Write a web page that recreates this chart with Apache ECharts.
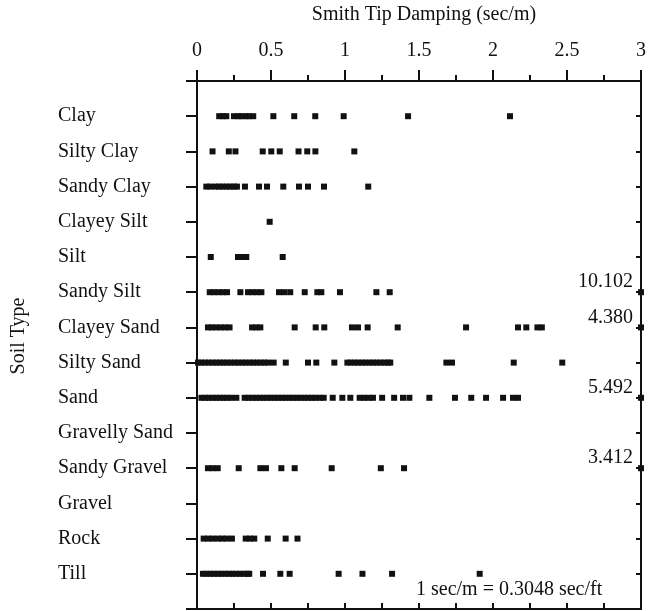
<!DOCTYPE html>
<html>
<head>
<meta charset="utf-8">
<script src="https://cdn.jsdelivr.net/npm/echarts@6/dist/echarts.min.js"></script>
<style>
html,body{margin:0;padding:0;background:#fff;}
#chart{width:657px;height:611px;}
</style>
</head>
<body>
<div id="chart"></div>
<script>
const categories = ['Clay','Silty Clay','Sandy Clay','Clayey Silt','Silt','Sandy Silt','Clayey Sand','Silty Sand','Sand','Gravelly Sand','Sandy Gravel','Gravel','Rock','Till'];
const xTicks = [0, 0.5, 1, 1.5, 2, 2.5, 3];

const clay = [0.15,0.175,0.198,0.25,0.28,0.30,0.33,0.35,0.38,0.516,0.657,0.799,0.991,1.426,2.115];
const siltyClay = [0.105,0.215,0.26,0.444,0.502,0.559,0.686,0.745,0.80,1.063];
const sandyClay = [0.063,0.09,0.125,0.15,0.175,0.20,0.225,0.25,0.27,0.324,0.419,0.473,0.583,0.689,0.75,0.858,1.157];
const clayeySilt = [0.491];
const silt = [0.093,0.277,0.305,0.333,0.579];
const sandySilt = [0.086,0.115,0.145,0.175,0.203,0.293,0.345,0.375,0.405,0.435,0.554,0.59,0.63,0.728,0.813,0.84,0.966,1.212,1.302];
const clayeySand = [0.074,0.10,0.13,0.16,0.19,0.22,0.372,0.40,0.428,0.66,0.802,0.86,1.047,1.088,1.153,1.356,1.818,2.169,2.225,2.30,2.33];
const siltySand = [0.007,0.03,0.055,0.08,0.105,0.13,0.155,0.18,0.205,0.23,0.255,0.28,0.305,0.33,0.355,0.38,0.405,0.43,0.455,0.48,0.518,0.60,0.75,0.806,0.928,1.016,1.04,1.065,1.09,1.115,1.14,1.165,1.19,1.215,1.24,1.265,1.29,1.306,1.685,1.723,2.14,2.468];
const sand = [0.03,0.055,0.08,0.105,0.13,0.155,0.18,0.205,0.23,0.266,0.322,0.35,0.375,0.40,0.425,0.45,0.475,0.50,0.525,0.55,0.575,0.60,0.625,0.65,0.675,0.70,0.725,0.75,0.775,0.80,0.83,0.856,0.917,0.982,1.036,1.099,1.13,1.16,1.189,1.251,1.332,1.392,1.435,1.57,1.743,1.853,1.953,2.068,2.135,2.169];
const gravellySand = [];
const sandyGravel = [0.074,0.105,0.14,0.282,0.428,0.466,0.57,0.66,0.91,1.242,1.399];
const gravel = [];
const rock = [0.045,0.075,0.105,0.14,0.17,0.20,0.236,0.329,0.358,0.387,0.478,0.599,0.679];
const till = [0.04,0.065,0.09,0.115,0.14,0.165,0.19,0.215,0.24,0.265,0.29,0.315,0.34,0.353,0.446,0.563,0.626,0.957,1.118,1.318,1.91];

const outlierCategories = ['Sandy Silt','Clayey Sand','Sand','Sandy Gravel'];
const outlierValues = [10.102, 4.380, 5.492, 3.412];

const rows = [clay,siltyClay,sandyClay,clayeySilt,silt,sandySilt,clayeySand,siltySand,sand,gravellySand,sandyGravel,gravel,rock,till];
const xMax = 3;

const pts = [];
rows.forEach((arr, i) => arr.forEach(v => pts.push([v, i + 1])));
const outPts = outlierCategories.map((c, i) => [Math.min(outlierValues[i], xMax), categories.indexOf(c) + 1]);

const FONT = 'Liberation Serif';
const FS = 20;
const INK = '#111';

const chart = echarts.init(document.getElementById('chart'), null, {renderer: 'canvas'});
chart.setOption({
  animation: false,
  backgroundColor: '#fff',
  grid: {left: 197, right: 16, top: 81, bottom: 2, containLabel: false},
  xAxis: [
    {
      type: 'value', position: 'top', min: 0, max: xMax, interval: 0.5,
      axisLine: {show: true, onZero: false, lineStyle: {color: INK, width: 2}},
      axisTick: {show: true, inside: false, length: 11, lineStyle: {color: INK, width: 2}},
      minorTick: {show: true, splitNumber: 2, length: 6, lineStyle: {color: INK, width: 2}},
      axisLabel: {show: true, margin: 20, fontFamily: FONT, fontSize: FS, color: INK,
        formatter: v => (xTicks.indexOf(v) >= 0 ? String(v) : '')},
      splitLine: {show: false}
    },
    {
      type: 'value', position: 'bottom', min: 0, max: xMax, interval: 0.25,
      axisLine: {show: true, onZero: false, lineStyle: {color: INK, width: 2}},
      axisTick: {show: true, inside: true, length: 6, lineStyle: {color: INK, width: 2}},
      axisLabel: {show: false},
      splitLine: {show: false}
    }
  ],
  yAxis: [
    {
      type: 'value', position: 'left', min: 0, max: categories.length + 1, interval: 1, inverse: true,
      axisLine: {show: true, onZero: false, lineStyle: {color: INK, width: 2}},
      axisTick: {show: true, inside: false, length: 11, lineStyle: {color: INK, width: 2}},
      axisLabel: {show: true, align: 'left', margin: 139, padding: [3, 0, 0, 0], fontFamily: FONT, fontSize: FS, color: INK,
        formatter: v => categories[v - 1] || ''},
      splitLine: {show: false}
    },
    {
      type: 'value', position: 'right', min: 0, max: categories.length + 1, interval: 1, inverse: true,
      axisLine: {show: true, onZero: false, lineStyle: {color: INK, width: 2}},
      axisTick: {show: true, inside: true, length: 5, lineStyle: {color: INK, width: 2}},
      axisLabel: {show: false},
      splitLine: {show: false}
    }
  ],
  series: [
    {
      type: 'scatter', xAxisIndex: 0, yAxisIndex: 0, symbol: 'rect', symbolSize: 6,
      itemStyle: {color: INK, opacity: 1}, data: pts, clip: false
    },
    {
      type: 'scatter', xAxisIndex: 0, yAxisIndex: 0, symbol: 'rect', symbolSize: 6,
      itemStyle: {color: INK, opacity: 1}, data: outPts, clip: false,
      label: {show: true, position: 'left', distance: 5, offset: [0, -10],
        fontFamily: FONT, fontSize: FS, color: INK,
        formatter: p => outlierValues[p.dataIndex].toFixed(3)}
    }
  ],
  graphic: [
    {type: 'text', x: 424, y: 15, style: {text: 'Smith Tip Damping (sec/m)', fontFamily: FONT, fontSize: FS, fill: INK, align: 'center', verticalAlign: 'middle'}},
    {type: 'text', x: 19, y: 336, rotation: Math.PI / 2, style: {text: 'Soil Type', fontFamily: FONT, fontSize: FS, fill: INK, align: 'center', verticalAlign: 'middle'}},
    {type: 'text', x: 416, y: 590, style: {text: '1 sec/m = 0.3048 sec/ft', fontFamily: FONT, fontSize: FS, fill: INK, align: 'left', verticalAlign: 'middle'}}
  ]
});
</script>
</body>
</html>
